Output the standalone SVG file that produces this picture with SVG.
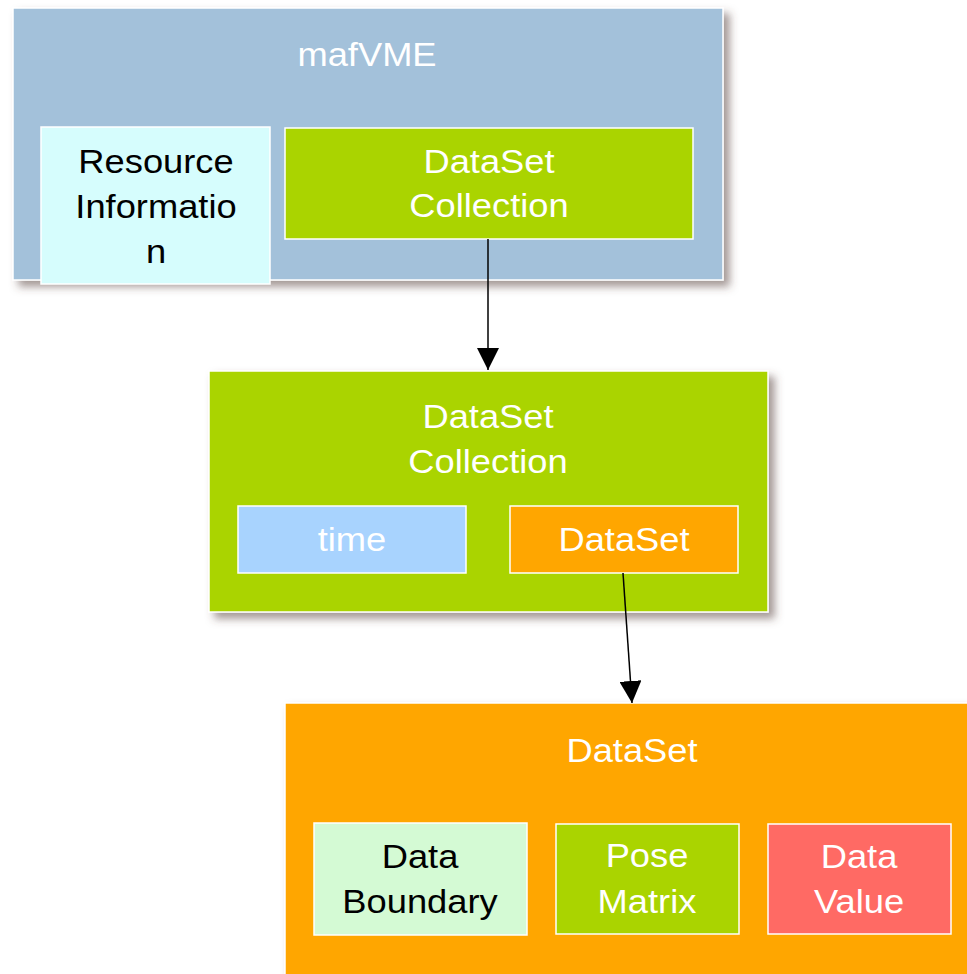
<svg xmlns="http://www.w3.org/2000/svg" width="967" height="974" viewBox="0 0 967 974">
<defs>
<filter id="sh" x="-10%" y="-10%" width="130%" height="130%">
<feDropShadow dx="6" dy="6" stdDeviation="4" flood-color="#5a4540" flood-opacity="0.55"/>
</filter>
<marker id="ah" markerUnits="userSpaceOnUse" markerWidth="22" markerHeight="22" refX="20" refY="10" orient="auto" viewBox="0 0 20 20">
<path d="M0,0 L20,10 L0,20 z" fill="#000"/>
</marker>
<style>
rect{stroke:#fff;stroke-width:1.5}
text{font-family:"Liberation Sans",Arial,sans-serif;font-size:33px;text-anchor:middle}
.w{fill:#fff}
.b{fill:#000}
.c{stroke:#000;stroke-width:1.5;fill:none}
</style>
</defs>
<g id="mafVME">
<rect x="13" y="8" width="710" height="272" fill="#a3c1da" filter="url(#sh)"/>
<text class="w" transform="translate(367,66) scale(1.1,1)">mafVME</text>
</g>
<g id="resource-info">
<rect x="41" y="127" width="229" height="157" fill="#d6fdfd"/>
<text class="b" transform="translate(156,173) scale(1.1,1)">Resource</text>
<text class="b" transform="translate(156,218) scale(1.1,1)">Informatio</text>
<text class="b" transform="translate(156,263) scale(1.1,1)">n</text>
</g>
<g id="dsc-inner">
<rect x="285" y="128" width="408" height="111" fill="#aad400"/>
<text class="w" transform="translate(489,173) scale(1.1,1)">DataSet</text>
<text class="w" transform="translate(489,217) scale(1.1,1)">Collection</text>
</g>
<g id="dsc">
<rect x="209" y="371" width="559" height="241" fill="#aad400" filter="url(#sh)"/>
<text class="w" transform="translate(488,428) scale(1.1,1)">DataSet</text>
<text class="w" transform="translate(488,473) scale(1.1,1)">Collection</text>
</g>
<g id="time">
<rect x="238" y="506" width="228" height="67" fill="#a8d3fe"/>
<text class="w" transform="translate(352,551) scale(1.1,1)">time</text>
</g>
<g id="dataset-inner">
<rect x="510" y="506" width="228" height="67" fill="#ffa600"/>
<text class="w" transform="translate(624,551) scale(1.1,1)">DataSet</text>
</g>
<g id="dataset">
<rect x="285" y="703" width="720" height="300" fill="#ffa600" filter="url(#sh)"/>
<text class="w" transform="translate(632,762) scale(1.1,1)">DataSet</text>
</g>
<g id="data-boundary">
<rect x="314" y="823" width="213" height="112" fill="#d4fad4"/>
<text class="b" transform="translate(420,868) scale(1.1,1)">Data</text>
<text class="b" transform="translate(420,913) scale(1.1,1)">Boundary</text>
</g>
<g id="pose-matrix">
<rect x="556" y="824" width="183" height="110" fill="#aad400"/>
<text class="w" transform="translate(647,867) scale(1.1,1)">Pose</text>
<text class="w" transform="translate(647,913) scale(1.1,1)">Matrix</text>
</g>
<g id="data-value">
<rect x="768" y="824" width="183" height="110" fill="#ff6a64"/>
<text class="w" transform="translate(859,868) scale(1.1,1)">Data</text>
<text class="w" transform="translate(859,913) scale(1.1,1)">Value</text>
</g>
<g id="connectors">
<line class="c" x1="488" y1="239" x2="488" y2="370" marker-end="url(#ah)"/>
<line class="c" x1="623" y1="573" x2="632" y2="703" marker-end="url(#ah)"/>
</g>
</svg>
